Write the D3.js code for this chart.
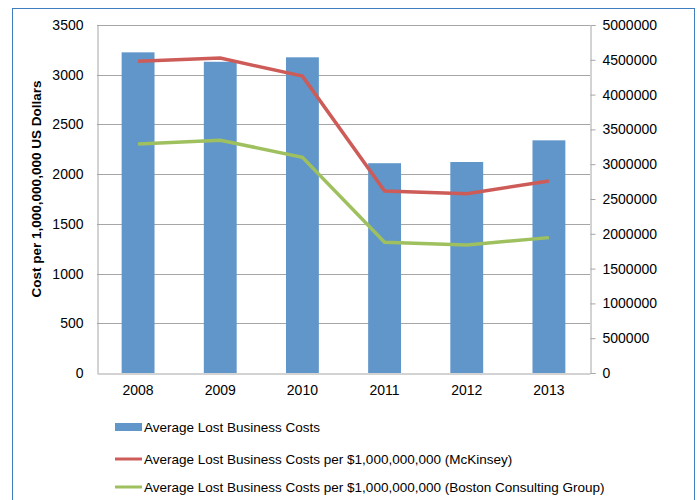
<!DOCTYPE html>
<html><head><meta charset="utf-8">
<script src="https://cdn.jsdelivr.net/npm/d3@7"></script>
<style>body{margin:0;background:#fff;}svg{display:block;font-family:"Liberation Sans",Arial,sans-serif;}</style>
</head><body><svg id="c" width="697" height="500"></svg>
<script>
const years = ["2008","2009","2010","2011","2012","2013"];
const lostBusinessCosts = [3225, 3130, 3175, 2110, 2122, 2340];
const mckinsey = [4480000, 4525000, 4265000, 2615000, 2575000, 2760000];
const bcg = [3290000, 3345000, 3100000, 1880000, 1840000, 1945000];
const leftTicks = [0,500,1000,1500,2000,2500,3000,3500];
const rightTicks = [0,500000,1000000,1500000,2000000,2500000,3000000,3500000,4000000,4500000,5000000];
const seriesNames = ["Average Lost Business Costs","Average Lost Business Costs per $1,000,000,000 (McKinsey)","Average Lost Business Costs per $1,000,000,000 (Boston Consulting Group)"];
const colors = ["#6096c9","#cd5c58","#9fc05e"];

const svg = d3.select("#c");
const L=97, R=590, T=25, B=373;
svg.append("rect").attr("x",12.5).attr("y",8.5).attr("width",682).attr("height",500).attr("fill","none").attr("stroke","#3f7fc0").attr("stroke-width",1);

const x = d3.scaleBand().domain(years).range([L,R]).paddingInner(0.6).paddingOuter(0.3);
const yL = d3.scaleLinear().domain([0,3500]).range([B,T]);
const yR = d3.scaleLinear().domain([0,5000000]).range([B,T]);

// gridlines
svg.append("g").selectAll("line").data(leftTicks.slice(1)).join("line")
  .attr("x1",L).attr("x2",R).attr("y1",d=>Math.round(yL(d))+0.5).attr("y2",d=>Math.round(yL(d))+0.5)
  .attr("stroke","#a6a6a6");

// bars
svg.append("g").selectAll("rect").data(lostBusinessCosts).join("rect")
  .attr("x",(d,i)=>x(years[i])).attr("width",x.bandwidth())
  .attr("y",d=>yL(d)).attr("height",d=>B-yL(d)).attr("fill",colors[0]);

// axes
const gl = svg.append("g").attr("transform",`translate(${L+0.5},0)`)
  .call(d3.axisLeft(yL).tickValues(leftTicks).tickSize(0).tickPadding(14).tickFormat(d3.format("d")));
gl.select(".domain").attr("stroke","#a6a6a6");
gl.selectAll("text").attr("font-size",14).attr("fill","#000").attr("font-family","Liberation Sans, Arial, sans-serif");

const gr = svg.append("g").attr("transform",`translate(${R+0.5},0)`)
  .call(d3.axisRight(yR).tickValues(rightTicks).tickSize(5).tickPadding(7).tickFormat(d3.format("d")));
gr.select(".domain").attr("stroke","#a6a6a6");
gr.selectAll("line").attr("stroke","#a6a6a6");
gr.selectAll("text").attr("font-size",14).attr("fill","#000").attr("font-family","Liberation Sans, Arial, sans-serif");

const gb = svg.append("g").attr("transform",`translate(0,${B+0.5})`)
  .call(d3.axisBottom(x).tickSize(0).tickPadding(12));
gb.select(".domain").attr("stroke","#a6a6a6");
gb.selectAll("text").attr("font-size",14).attr("fill","#000").attr("font-family","Liberation Sans, Arial, sans-serif");

// lines
const line = d3.line().x((d,i)=>x(years[i])+x.bandwidth()/2).y(d=>yR(d));
svg.append("path").datum(mckinsey).attr("d",line).attr("fill","none").attr("stroke",colors[1]).attr("stroke-width",3.5);
svg.append("path").datum(bcg).attr("d",line).attr("fill","none").attr("stroke",colors[2]).attr("stroke-width",3.5);

// y title
svg.append("text").attr("transform","translate(41,189) rotate(-90)").attr("text-anchor","middle")
  .attr("font-size",13.5).attr("font-weight","bold").text("Cost per 1,000,000,000 US Dollars");

// legend
const lg = svg.append("g");
const rowsY = [427,459,487];
seriesNames.forEach((n,i)=>{
  if(i===0) lg.append("rect").attr("x",115).attr("y",rowsY[i]-4).attr("width",27).attr("height",8).attr("fill",colors[0]);
  else lg.append("line").attr("x1",115).attr("x2",142).attr("y1",rowsY[i]).attr("y2",rowsY[i]).attr("stroke",colors[i]).attr("stroke-width",3);
  lg.append("text").attr("x",144).attr("y",rowsY[i]).attr("dy","0.35em").attr("font-size",13.5).text(n);
});
</script></body></html>
